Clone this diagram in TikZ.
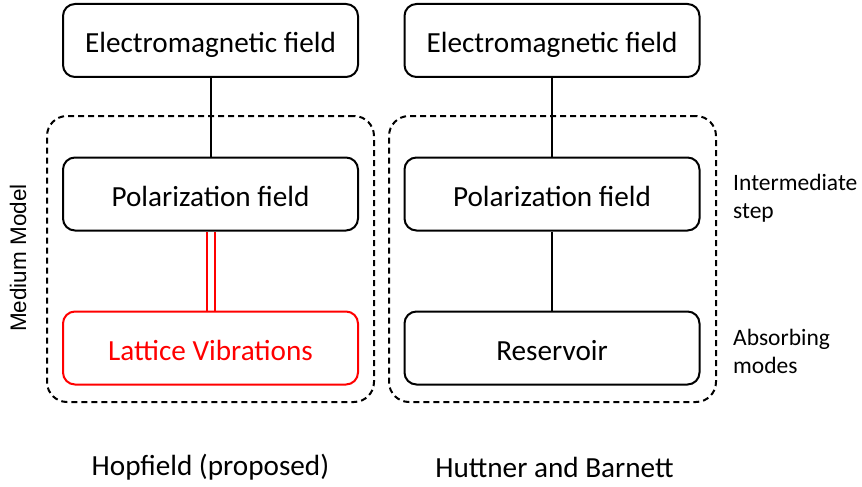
\documentclass[tikz,border=0pt]{standalone}
\usepackage{fontspec}
\setmainfont{Carlito}
\newfontfamily\arialfont{Liberation Sans}
\begin{document}
\begin{tikzpicture}[x=1pt,y=-1pt,
  box/.style={draw=black, line width=2pt, rounded corners=12pt, minimum width=295pt, minimum height=73pt, inner sep=0pt, text height=25pt, text depth=0pt, font=\fontsize{29.2}{32}\selectfont},
  redbox/.style={box, draw=red, text=red},
  group/.style={draw=black, line width=2pt, dash pattern=on 6pt off 4pt, rounded corners=20pt, minimum width=327pt, minimum height=286pt, inner sep=0pt},
  conn/.style={line width=2pt},
  side/.style={font=\fontsize{23.5}{28}\selectfont, align=left, anchor=west, inner sep=0pt},
  caption/.style={font=\fontsize{29.2}{32}\selectfont, inner sep=0pt}]
\useasboundingbox (0,0) rectangle (862,487);
\node[group] (gl) at (210.5,259) {};
\node[group] (gr) at (552.5,259) {};
\node[box] (eml) at (210.5,40.5) {Electromagnetic field};
\node[box] (emr) at (552,40.5) {Electromagnetic field};
\node[box] (pl) at (210.5,194) {Polarization field};
\node[box] (pr) at (552,194) {Polarization field};
\node[redbox] (lat) at (210.5,348) {Lattice Vibrations};
\node[box] (res) at (552,348) {Reservoir};
\draw[conn] (eml) -- (pl);
\draw[conn] (emr) -- (pr);
\draw[conn] (pr) -- (res);
\draw[conn, red] ([xshift=-4pt]pl.south) -- ([xshift=-4pt]lat.north);
\draw[conn, red] ([xshift=4pt]pl.south) -- ([xshift=4pt]lat.north);
\node[rotate=90, font=\arialfont\fontsize{22.5}{24}\selectfont, inner sep=0pt] (mm) at (18,258) {Medium Model};
\node[side] (inter) at (733,198) {Intermediate\\step};
\node[side] (abs) at (733,351) {Absorbing\\modes};
\node[caption] (hop) at (210.5,467) {Hopfield (proposed)};
\node[caption] (hut) at (554.5,467) {Huttner and Barnett};
\end{tikzpicture}
\end{document}
